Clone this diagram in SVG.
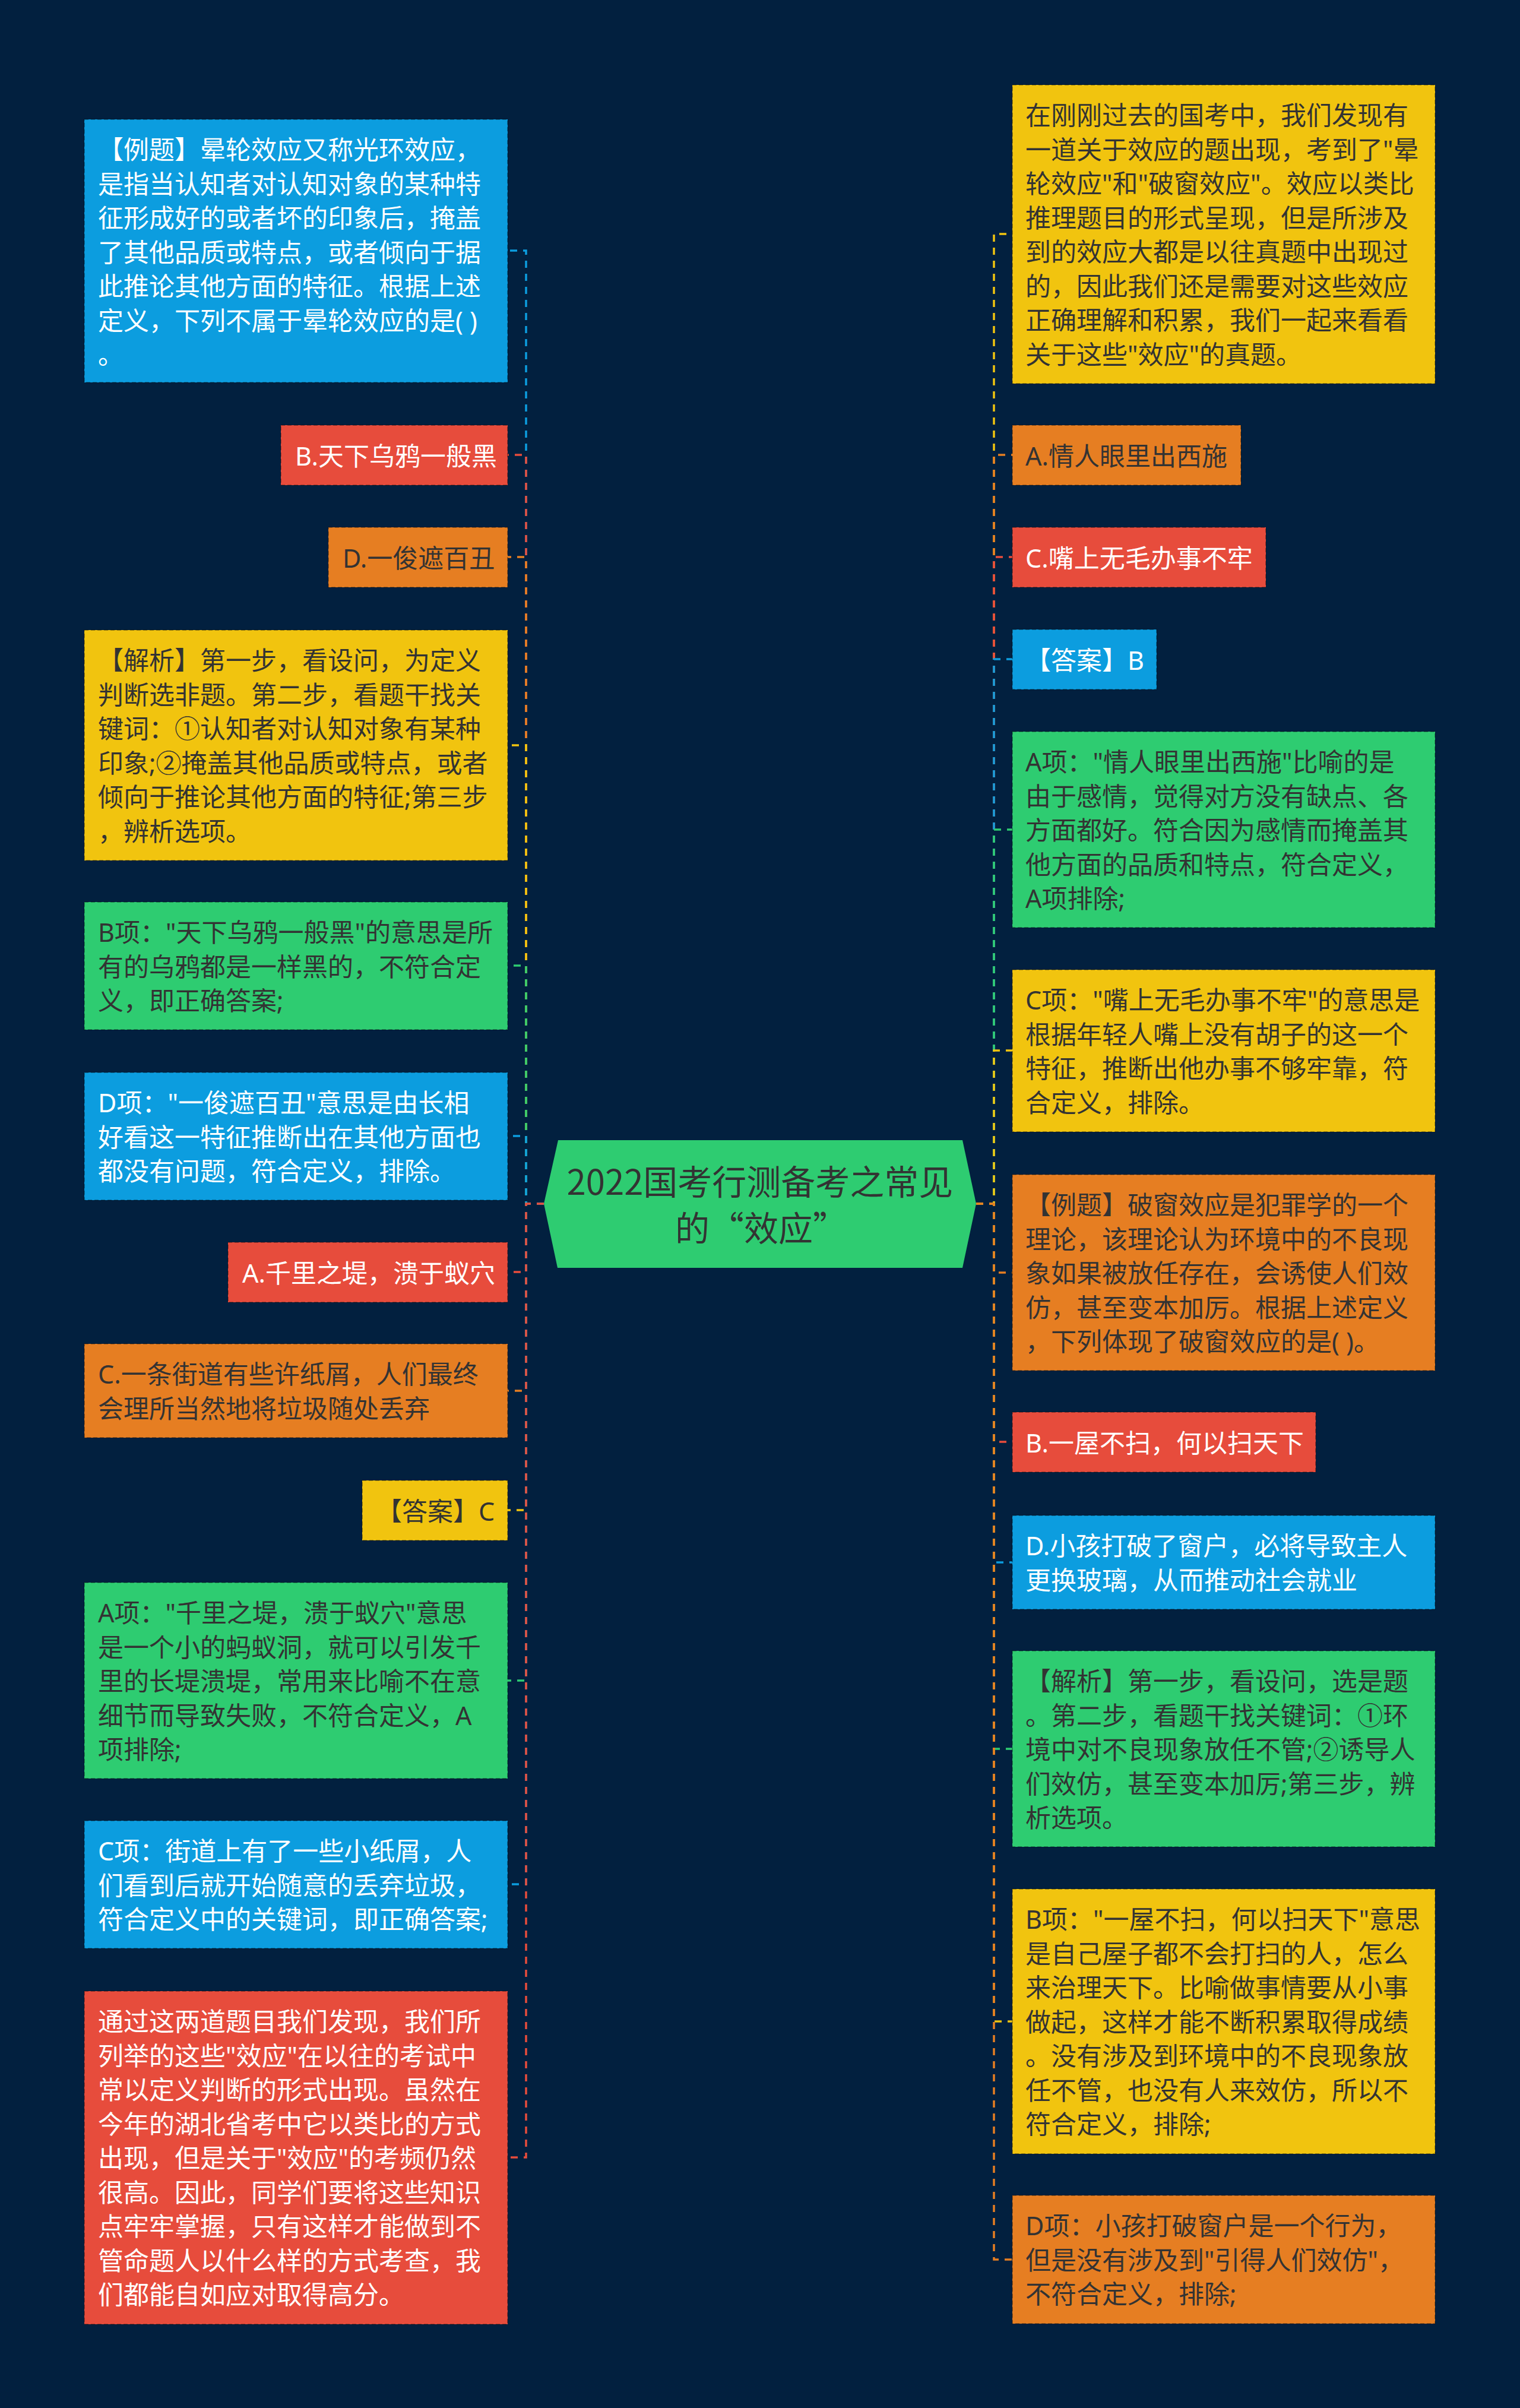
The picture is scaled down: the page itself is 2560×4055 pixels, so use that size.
<svg xmlns="http://www.w3.org/2000/svg" width="2560" height="4055" viewBox="0 0 2560 4055">
<style>
.bg{fill:#02203f}
.box{stroke:rgba(0,0,0,0.28);stroke-width:2;stroke-dasharray:7 4}
.blue{fill:#0c9ddf}.red{fill:#e74c3c}.orange{fill:#e67e22}.yellow{fill:#f1c40f}.green{fill:#2ecc71}
text{font-family:'Noto Sans','Noto Sans CJK SC',sans-serif;font-size:43px;dominant-baseline:central}
.w{fill:#ffffff}.d{fill:#333333}
.title{font-family:'Noto Sans CJK SC',sans-serif;font-size:58px;fill:#333333;text-anchor:middle}
.c{fill:none;stroke-width:3.5;stroke-dasharray:12 10}
.cb{stroke:#0c9ddf}.cr{stroke:#e74c3c}.co{stroke:#e67e22}.cy{stroke:#f1c40f}.cg{stroke:#2ecc71}
</style>
<rect class="bg" x="0" y="0" width="2560" height="4055"/>
<g id="connectors">
<path class="c cb" d="M916,2027H886V422H855"/>
<path class="c cr" d="M916,2027H886V766H855"/>
<path class="c co" d="M916,2027H886V938H855"/>
<path class="c cy" d="M916,2027H886V1255H855"/>
<path class="c cg" d="M916,2027H886V1626H855"/>
<path class="c cb" d="M916,2027H886V1913H855"/>
<path class="c cr" d="M916,2027H886V2142H855"/>
<path class="c co" d="M916,2027H886V2342H855"/>
<path class="c cy" d="M916,2027H886V2543H855"/>
<path class="c cg" d="M916,2027H886V2830H855"/>
<path class="c cb" d="M916,2027H886V3173H855"/>
<path class="c cr" d="M916,2027H886V3633H855"/>
<path class="c cy" d="M1644,2027H1674V394H1705"/>
<path class="c co" d="M1644,2027H1674V766H1705"/>
<path class="c cr" d="M1644,2027H1674V938H1705"/>
<path class="c cb" d="M1644,2027H1674V1110H1705"/>
<path class="c cg" d="M1644,2027H1674V1397H1705"/>
<path class="c cy" d="M1644,2027H1674V1769H1705"/>
<path class="c co" d="M1644,2027H1674V2143H1705"/>
<path class="c cr" d="M1644,2027H1674V2428H1705"/>
<path class="c cb" d="M1644,2027H1674V2631H1705"/>
<path class="c cg" d="M1644,2027H1674V2945H1705"/>
<path class="c cy" d="M1644,2027H1674V3404H1705"/>
<path class="c co" d="M1644,2027H1674V3805H1705"/>
</g>
<g id="center">
<polygon class="green" points="916,2027 940,1920 1621,1920 1644,2027 1621,2135 939,2135"/>
<text class="title" x="1280" y="1987">2022国考行测备考之常见</text>
<text class="title" x="1282" y="2065">的“效应”</text>
</g>
<g id="L1"><rect class="box blue" x="142" y="201" width="713" height="443"/>
<text class="w" x="165"><tspan x="165" y="251">【例题】晕轮效应又称光环效应，</tspan><tspan x="165" y="308.5">是指当认知者对认知对象的某种特</tspan><tspan x="165" y="366">征形成好的或者坏的印象后，掩盖</tspan><tspan x="165" y="423.5">了其他品质或特点，或者倾向于据</tspan><tspan x="165" y="481">此推论其他方面的特征。根据上述</tspan><tspan x="165" y="538.5">定义，下列不属于晕轮效应的是( )</tspan><tspan x="165" y="596">。</tspan></text></g>
<g id="L2"><rect class="box red" x="473" y="716" width="382" height="101"/><text class="w" x="497" y="767">B.天下乌鸦一般黑</text></g>
<g id="L3"><rect class="box orange" x="553" y="888" width="302" height="101"/><text class="d" x="577" y="939">D.一俊遮百丑</text></g>
<g id="L4"><rect class="box yellow" x="142" y="1061" width="713" height="388"/>
<text class="d"><tspan x="165" y="1111">【解析】第一步，看设问，为定义</tspan><tspan x="165" y="1168.5">判断选非题。第二步，看题干找关</tspan><tspan x="165" y="1226">键词：①认知者对认知对象有某种</tspan><tspan x="165" y="1283.5">印象;②掩盖其他品质或特点，或者</tspan><tspan x="165" y="1341">倾向于推论其他方面的特征;第三步</tspan><tspan x="165" y="1398.5">，辨析选项。</tspan></text></g>
<g id="L5"><rect class="box green" x="142" y="1519" width="713" height="215"/>
<text class="d"><tspan x="165" y="1569">B项："天下乌鸦一般黑"的意思是所</tspan><tspan x="165" y="1626.5">有的乌鸦都是一样黑的，不符合定</tspan><tspan x="165" y="1684">义，即正确答案;</tspan></text></g>
<g id="L6"><rect class="box blue" x="142" y="1806" width="713" height="215"/>
<text class="w"><tspan x="165" y="1856">D项："一俊遮百丑"意思是由长相</tspan><tspan x="165" y="1913.5">好看这一特征推断出在其他方面也</tspan><tspan x="165" y="1971">都没有问题，符合定义，排除。</tspan></text></g>
<g id="L7"><rect class="box red" x="384" y="2092" width="471" height="101"/><text class="w" x="408" y="2143">A.千里之堤，溃于蚁穴</text></g>
<g id="L8"><rect class="box orange" x="142" y="2263" width="713" height="158"/>
<text class="d"><tspan x="165" y="2313">C.一条街道有些许纸屑，人们最终</tspan><tspan x="165" y="2370.5">会理所当然地将垃圾随处丢弃</tspan></text></g>
<g id="L9"><rect class="box yellow" x="610" y="2493" width="245" height="101"/><text class="d" x="634" y="2544">【答案】C</text></g>
<g id="L10"><rect class="box green" x="142" y="2665" width="713" height="330"/>
<text class="d"><tspan x="165" y="2715">A项："千里之堤，溃于蚁穴"意思</tspan><tspan x="165" y="2772.5">是一个小的蚂蚁洞，就可以引发千</tspan><tspan x="165" y="2830">里的长堤溃堤，常用来比喻不在意</tspan><tspan x="165" y="2887.5">细节而导致失败，不符合定义，A</tspan><tspan x="165" y="2945">项排除;</tspan></text></g>
<g id="L11"><rect class="box blue" x="142" y="3066" width="713" height="215"/>
<text class="w"><tspan x="165" y="3116">C项：街道上有了一些小纸屑，人</tspan><tspan x="165" y="3173.5">们看到后就开始随意的丢弃垃圾，</tspan><tspan x="165" y="3231">符合定义中的关键词，即正确答案;</tspan></text></g>
<g id="L12"><rect class="box red" x="142" y="3353" width="713" height="561"/>
<text class="w"><tspan x="165" y="3403">通过这两道题目我们发现，我们所</tspan><tspan x="165" y="3460.5">列举的这些"效应"在以往的考试中</tspan><tspan x="165" y="3518">常以定义判断的形式出现。虽然在</tspan><tspan x="165" y="3575.5">今年的湖北省考中它以类比的方式</tspan><tspan x="165" y="3633">出现，但是关于"效应"的考频仍然</tspan><tspan x="165" y="3690.5">很高。因此，同学们要将这些知识</tspan><tspan x="165" y="3748">点牢牢掌握，只有这样才能做到不</tspan><tspan x="165" y="3805.5">管命题人以什么样的方式考查，我</tspan><tspan x="165" y="3863">们都能自如应对取得高分。</tspan></text></g>
<g id="R1"><rect class="box yellow" x="1705" y="143" width="712" height="503"/>
<text class="d"><tspan x="1727" y="193">在刚刚过去的国考中，我们发现有</tspan><tspan x="1727" y="250.5">一道关于效应的题出现，考到了"晕</tspan><tspan x="1727" y="308">轮效应"和"破窗效应"。效应以类比</tspan><tspan x="1727" y="365.5">推理题目的形式呈现，但是所涉及</tspan><tspan x="1727" y="423">到的效应大都是以往真题中出现过</tspan><tspan x="1727" y="480.5">的，因此我们还是需要对这些效应</tspan><tspan x="1727" y="538">正确理解和积累，我们一起来看看</tspan><tspan x="1727" y="595.5">关于这些"效应"的真题。</tspan></text></g>
<g id="R2"><rect class="box orange" x="1705" y="716" width="385" height="101"/><text class="d" x="1727" y="767">A.情人眼里出西施</text></g>
<g id="R3"><rect class="box red" x="1705" y="888" width="427" height="101"/><text class="w" x="1727" y="939">C.嘴上无毛办事不牢</text></g>
<g id="R4"><rect class="box blue" x="1705" y="1060" width="243" height="101"/><text class="w" x="1727" y="1111">【答案】B</text></g>
<g id="R5"><rect class="box green" x="1705" y="1232" width="712" height="330"/>
<text class="d"><tspan x="1727" y="1282">A项："情人眼里出西施"比喻的是</tspan><tspan x="1727" y="1339.5">由于感情，觉得对方没有缺点、各</tspan><tspan x="1727" y="1397">方面都好。符合因为感情而掩盖其</tspan><tspan x="1727" y="1454.5">他方面的品质和特点，符合定义，</tspan><tspan x="1727" y="1512">A项排除;</tspan></text></g>
<g id="R6"><rect class="box yellow" x="1705" y="1633" width="712" height="273"/>
<text class="d"><tspan x="1727" y="1683">C项："嘴上无毛办事不牢"的意思是</tspan><tspan x="1727" y="1740.5">根据年轻人嘴上没有胡子的这一个</tspan><tspan x="1727" y="1798">特征，推断出他办事不够牢靠，符</tspan><tspan x="1727" y="1855.5">合定义，排除。</tspan></text></g>
<g id="R7"><rect class="box orange" x="1705" y="1978" width="712" height="330"/>
<text class="d"><tspan x="1727" y="2028">【例题】破窗效应是犯罪学的一个</tspan><tspan x="1727" y="2085.5">理论，该理论认为环境中的不良现</tspan><tspan x="1727" y="2143">象如果被放任存在，会诱使人们效</tspan><tspan x="1727" y="2200.5">仿，甚至变本加厉。根据上述定义</tspan><tspan x="1727" y="2258">，下列体现了破窗效应的是( )。</tspan></text></g>
<g id="R8"><rect class="box red" x="1705" y="2378" width="511" height="101"/><text class="w" x="1727" y="2429">B.一屋不扫，何以扫天下</text></g>
<g id="R9"><rect class="box blue" x="1705" y="2552" width="712" height="158"/>
<text class="w"><tspan x="1727" y="2602">D.小孩打破了窗户，必将导致主人</tspan><tspan x="1727" y="2659.5">更换玻璃，从而推动社会就业</tspan></text></g>
<g id="R10"><rect class="box green" x="1705" y="2780" width="712" height="330"/>
<text class="d"><tspan x="1727" y="2830">【解析】第一步，看设问，选是题</tspan><tspan x="1727" y="2887.5">。第二步，看题干找关键词：①环</tspan><tspan x="1727" y="2945">境中对不良现象放任不管;②诱导人</tspan><tspan x="1727" y="3002.5">们效仿，甚至变本加厉;第三步，辨</tspan><tspan x="1727" y="3060">析选项。</tspan></text></g>
<g id="R11"><rect class="box yellow" x="1705" y="3181" width="712" height="446"/>
<text class="d"><tspan x="1727" y="3231">B项："一屋不扫，何以扫天下"意思</tspan><tspan x="1727" y="3288.5">是自己屋子都不会打扫的人，怎么</tspan><tspan x="1727" y="3346">来治理天下。比喻做事情要从小事</tspan><tspan x="1727" y="3403.5">做起，这样才能不断积累取得成绩</tspan><tspan x="1727" y="3461">。没有涉及到环境中的不良现象放</tspan><tspan x="1727" y="3518.5">任不管，也没有人来效仿，所以不</tspan><tspan x="1727" y="3576">符合定义，排除;</tspan></text></g>
<g id="R12"><rect class="box orange" x="1705" y="3697" width="712" height="216"/>
<text class="d"><tspan x="1727" y="3747">D项：小孩打破窗户是一个行为，</tspan><tspan x="1727" y="3804.5">但是没有涉及到"引得人们效仿"，</tspan><tspan x="1727" y="3862">不符合定义，排除;</tspan></text></g>
</svg>
